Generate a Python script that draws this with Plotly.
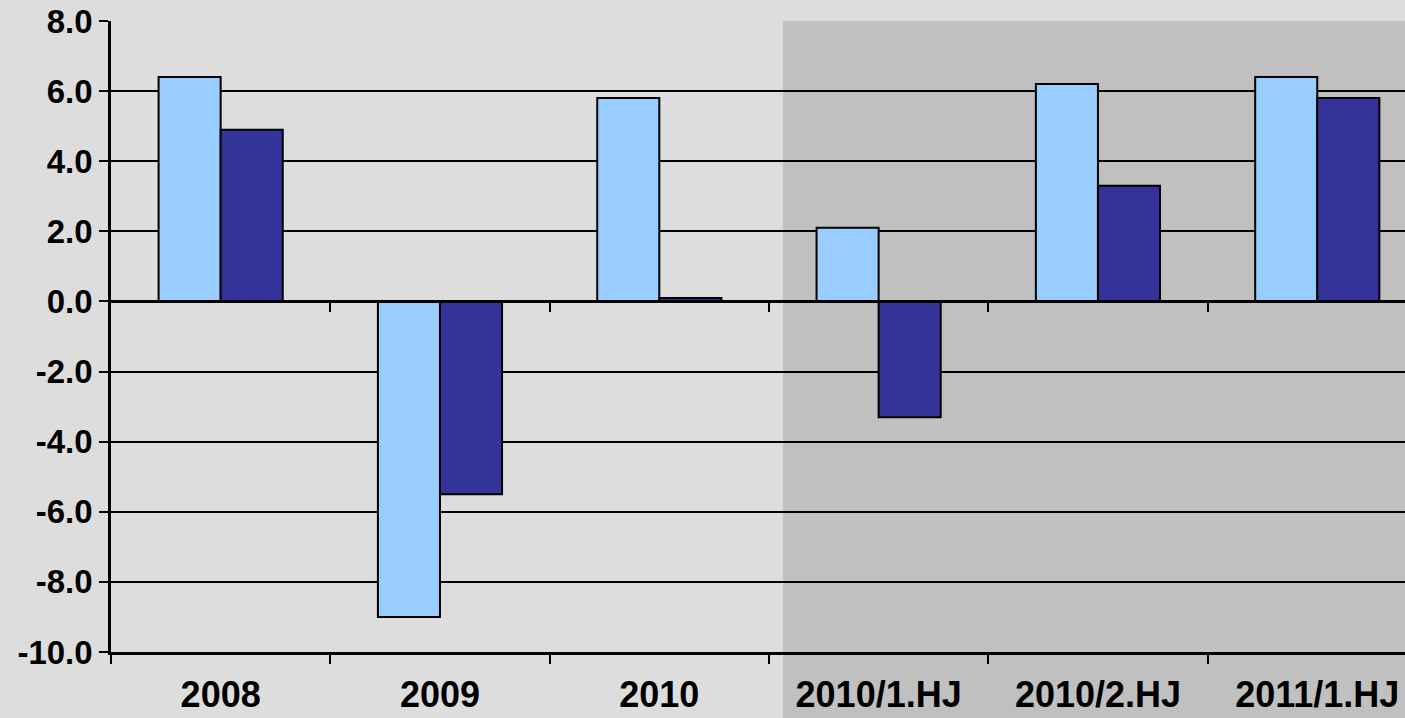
import plotly.graph_objects as go

categories = ["2008", "2009", "2010", "2010/1.HJ", "2010/2.HJ", "2011/1.HJ"]
series_a = [6.4, -9.0, 5.8, 2.1, 6.2, 6.4]
series_b = [4.9, -5.5, 0.1, -3.3, 3.3, 5.8]
y_ticks = [-10, -8, -6, -4, -2, 0, 2, 4, 6, 8]
y_tick_text = ["-10.0", "-8.0", "-6.0", "-4.0", "-2.0", "0.0", "2.0", "4.0", "6.0", "8.0"]

W, H = 1405, 718
ml, mr, mt, mb = 111, 0, 21, 66
pw = W - ml - mr
ph = H - mt - mb

fig = go.Figure()
fig.add_trace(go.Bar(x=categories, y=series_a, marker=dict(color="#99CCFF", line=dict(color="black", width=2)), showlegend=False))
fig.add_trace(go.Bar(x=categories, y=series_b, marker=dict(color="#333399", line=dict(color="black", width=2)), showlegend=False))
# empty helper trace so the zero-line axis (x2) is drawn
fig.add_trace(go.Scatter(x=[], y=[], xaxis="x2", yaxis="y", showlegend=False, hoverinfo="skip"))

xr = [-0.5, 5.4]
shade_x0 = (783 - ml) / pw
fig.add_shape(type="rect", xref="paper", yref="paper", x0=shade_x0, x1=1.0, y0=-mb / ph, y1=1.0,
              fillcolor="#C0C0C0", line=dict(width=0), layer="below")

zero_pos = 10 / 18

fig.update_layout(
    width=W, height=H,
    margin=dict(l=ml, r=mr, t=mt, b=mb),
    paper_bgcolor="#DDDDDD",
    plot_bgcolor="rgba(0,0,0,0)",
    barmode="group", bargap=0.434, bargroupgap=0,
    font=dict(family="Liberation Sans, Arial, sans-serif", color="black"),
    xaxis=dict(type="category", range=xr, tickson="boundaries", ticks="outside", ticklen=9, tickwidth=1.5,
               tickcolor="black", showline=True, linecolor="black", linewidth=2.5, showgrid=False,
               tickfont=dict(size=36, family="Liberation Sans, Arial", weight="bold"), ticklabelstandoff=9,
               zeroline=False),
    xaxis2=dict(overlaying="x", anchor="free", position=zero_pos, range=xr, tickmode="array",
                tickvals=[0.5, 1.5, 2.5, 3.5, 4.5], ticks="outside", ticklen=9, tickwidth=1.5, tickcolor="black",
                showticklabels=False, showline=True, linecolor="black", linewidth=2.5, showgrid=False, zeroline=False),
    yaxis=dict(range=[-10, 8], tickmode="array", tickvals=y_ticks, ticktext=y_tick_text, ticks="outside", ticklen=9,
               tickwidth=1.5, tickcolor="black", showline=True, linecolor="black", linewidth=2.5,
               showgrid=True, gridcolor="black", gridwidth=2, zeroline=False,
               tickfont=dict(size=33, family="Liberation Sans, Arial", weight="bold")),
)

fig.write_html("out.html", config={"displayModeBar": False},
               post_script="document.body.style.margin='0';document.body.style.overflow='hidden';")
